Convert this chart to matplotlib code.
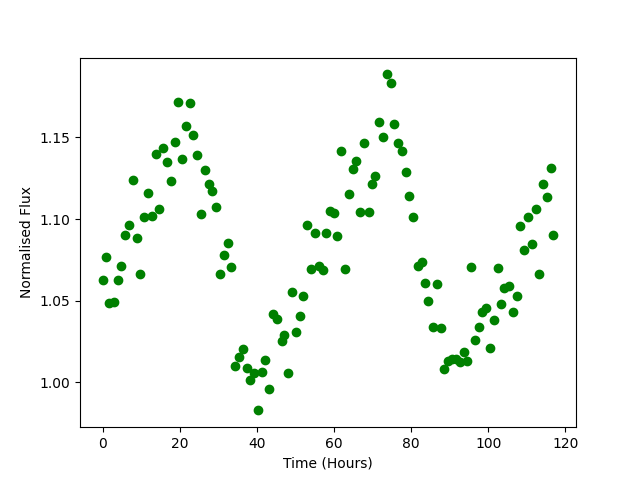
import matplotlib
matplotlib.use("Agg")
import matplotlib.pyplot as plt

time_hours = [0.0, 0.86, 1.74, 2.94, 3.97, 4.75, 5.79, 6.83, 7.87, 8.91,
              9.69, 10.73, 11.77, 12.81, 13.84, 14.62, 15.66, 16.70, 17.74, 18.78,
              19.56, 20.60, 21.64, 22.68, 23.45, 24.49, 25.53, 26.57, 27.61, 28.39,
              29.43, 30.47, 31.51, 32.55, 33.32, 34.29, 35.32, 36.44, 37.48, 38.26,
              39.30, 40.34, 41.38, 42.16, 43.19, 44.23, 45.27, 46.42, 47.09, 48.13,
              49.17, 50.21, 51.25, 52.03, 53.06, 54.03, 55.14, 56.18, 57.14, 58.00,
              59.04, 60.08, 60.86, 61.90, 62.94, 63.97, 65.01, 65.79, 66.83, 67.87,
              69.01, 69.95, 70.73, 71.77, 72.81, 73.84, 74.88, 75.66, 76.70, 77.74,
              78.78, 79.56, 80.60, 81.64, 82.68, 83.71, 84.49, 85.64, 86.57, 87.71,
              88.57, 89.61, 90.65, 91.56, 92.55, 93.58, 94.47, 95.58, 96.44, 97.48,
              98.31, 99.27, 100.31, 101.38, 102.39, 103.17, 104.10, 105.27, 106.31, 107.35,
              108.13, 109.17, 110.21, 111.25, 112.29, 113.06, 114.10, 115.14, 116.18, 116.88]

flux = [1.0625, 1.0771, 1.0484, 1.0490, 1.0625, 1.0716, 1.0900, 1.0967, 1.1239, 1.0882,
        1.0661, 1.1010, 1.1157, 1.1022, 1.1396, 1.1065, 1.1433, 1.1347, 1.1231, 1.1471,
        1.1714, 1.1371, 1.1569, 1.1708, 1.1518, 1.1390, 1.1029, 1.1298, 1.1214, 1.1173,
        1.1073, 1.0661, 1.0778, 1.0851, 1.0704, 1.0100, 1.0153, 1.0204, 1.0086, 1.0014,
        1.0059, 0.9829, 1.0063, 1.0137, 0.9957, 1.0420, 1.0386, 1.0253, 1.0290, 1.0057,
        1.0551, 1.0310, 1.0404, 1.0527, 1.0967, 1.0692, 1.0918, 1.0710, 1.0686, 1.0918,
        1.1051, 1.1035, 1.0894, 1.1420, 1.0692, 1.1151, 1.1304, 1.1355, 1.1041, 1.1469,
        1.1041, 1.1218, 1.1261, 1.1592, 1.1500, 1.1886, 1.1831, 1.1580, 1.1469, 1.1414,
        1.1286, 1.1139, 1.1016, 1.0710, 1.0737, 1.0612, 1.0496, 1.0340, 1.0600, 1.0331,
        1.0080, 1.0130, 1.0146, 1.0143, 1.0126, 1.0184, 1.0132, 1.0704, 1.0258, 1.0339,
        1.0429, 1.0453, 1.0208, 1.0380, 1.0698, 1.0478, 1.0576, 1.0588, 1.0429, 1.0527,
        1.0955, 1.0808, 1.1010, 1.0845, 1.1059, 1.0667, 1.1218, 1.1133, 1.1310, 1.0900]

fig = plt.figure(figsize=(6.4, 4.8), dpi=100)
ax = fig.add_subplot(111)
ax.plot(time_hours, flux, 'o', color='green')
ax.set_xlabel('Time (Hours)')
ax.set_ylabel('Normalised Flux')
fig.savefig('out.png', dpi=100)
